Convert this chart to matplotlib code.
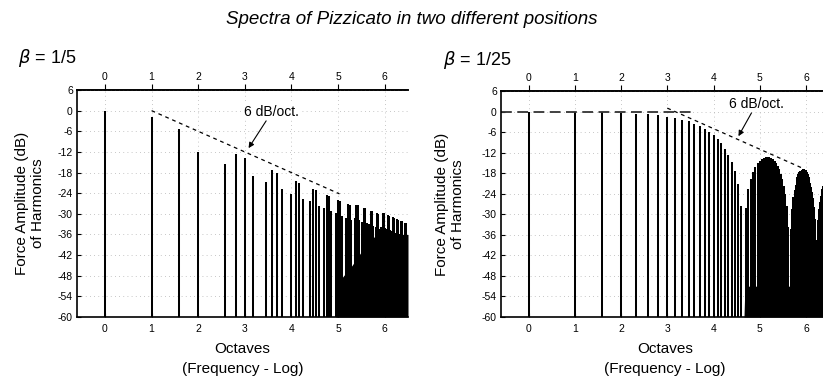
import numpy as np
import matplotlib
matplotlib.use("Agg")
import matplotlib.pyplot as plt

plt.rcParams['font.family'] = ['Liberation Sans', 'DejaVu Sans']
plt.rcParams['axes.unicode_minus'] = False

nan = float('nan')

# harmonic numbers (x is plotted on a log2 scale -> octaves)
harmonics = list(range(1, 91))

# force amplitude of each harmonic in dB, pluck at beta = 1/5 (nan = missing harmonic)
db_beta5 = [
    0.0, -1.8, -5.4, -12.0, nan, -15.6, -12.7, -13.9, -19.1, nan,
    -20.8, -17.4, -18.1, -22.9, nan, -24.1, -20.4, -20.9, -25.6, nan,
    -26.4, -22.7, -23.1, -27.6, nan, -28.3, -24.5, -24.8, -29.2, nan,
    -29.8, -25.9, -26.2, -30.6, nan, -31.1, -27.2, -27.4, -31.8, nan,
    -31.3, -27.3, -27.5, -31.9, nan, -32.3, -28.3, -28.4, -32.8, nan,
    -33.1, -29.1, -29.3, -33.6, nan, -33.9, -29.9, -30.1, -34.4, nan,
    -33.7, -29.7, -29.8, -34.1, nan, -34.4, -30.3, -30.5, -34.8, nan,
    -35.0, -31.0, -31.1, -35.4, nan, -35.6, -31.5, -31.7, -36.0, nan,
    -36.2, -32.1, -32.2, -36.5, nan, -36.7, -32.6, -32.7, -37.0, nan,
]

# force amplitude of each harmonic in dB, pluck at beta = 1/25
db_beta25 = [
    0.0, -0.1, -0.2, -0.3, -0.6, -0.8, -1.1, -1.5, -1.9, -2.4,
    -2.9, -3.6, -4.3, -5.0, -5.9, -6.9, -8.0, -9.3, -10.8, -12.6,
    -14.8, -17.5, -21.3, -27.6, nan, -28.3, -22.7, -19.6, -17.6, -16.1,
    -15.1, -14.3, -13.8, -13.5, -13.3, -13.2, -13.3, -13.6, -13.9, -14.4,
    -15.1, -15.9, -16.9, -18.1, -19.6, -21.6, -24.1, -27.7, -33.8, nan,
    -34.2, -28.4, -25.1, -23.0, -21.4, -19.2, -18.3, -17.7, -17.3, -17.0,
    -16.8, -16.8, -17.0, -17.2, -17.7, -18.2, -19.0, -20.9, -22.0, -23.5,
    -25.3, -27.8, -31.3, -37.4, nan, -37.6, -31.8, -28.5, -26.3, -24.6,
    -23.4, -22.5, -21.8, -21.3, -21.0, -20.8, -20.8, -20.9, -21.1, -21.5,
]

# solid black base where the spike feet merge (octave, dB)
floor5_oct = [4.95, 5.0, 5.3, 5.7, 6.0, 6.5]
floor5_db = [-60, -50, -45, -37, -36, -36]
floor25_oct = [4.66, 4.68, 4.95, 5.6, 6.5]
floor25_db = [-60, -51, -51, -51, -51]

# 6 dB/oct guide lines (octave, dB)
guide5_oct = [1.0, 5.03]
guide5_db = [0.0, -24.2]
flat25_oct = [-0.6, 3.55]
flat25_db = [0.0, 0.0]
guide25_oct = [3.0, 5.92]
guide25_db = [1.0, -16.5]

# annotation text / arrow head (octave, dB)
note5_text = (3.58, -0.4)
note5_head = (3.08, -10.9)
note25_text = (4.93, 2.2)
note25_head = (4.54, -7.2)

octave_ticks = [0, 1, 2, 3, 4, 5, 6]
db_ticks = [6, 0, -6, -12, -18, -24, -30, -36, -42, -48, -54, -60]

W, H = 823, 379
fig = plt.figure(figsize=(W / 100, H / 100), dpi=100)


def px(x0, y0, x1, y1):
    return [x0 / W, 1 - y1 / H, (x1 - x0) / W, (y1 - y0) / H]


def panel(rect, db, floor_oct, floor_db, ylabelpad):
    ax = fig.add_axes(rect)
    ax.set_xscale('log', base=2)
    ax.set_xlim(2 ** -0.6, 2 ** 6.5)
    ax.set_ylim(-60, 6)
    ax.set_axisbelow(True)
    ax.grid(True, color='#b4b4b4', linestyle=(0, (1, 4)), linewidth=0.6)

    h = np.array(harmonics, dtype=float)
    v = np.array(db, dtype=float)
    ok = ~np.isnan(v)
    ax.vlines(h[ok], -60, v[ok], color='black', linewidth=1.45)
    ax.fill_between(2.0 ** np.array(floor_oct), floor_db, -60,
                    color='black', linewidth=0)

    ticks = [2.0 ** o for o in octave_ticks]
    ax.set_xticks(ticks)
    ax.set_xticklabels([str(o) for o in octave_ticks])
    ax.xaxis.set_minor_locator(matplotlib.ticker.NullLocator())
    ax.set_yticks(db_ticks)
    ax.set_yticklabels([str(d) for d in db_ticks])
    ax.tick_params(axis='both', direction='in', length=3, labelsize=7.5,
                   width=0.8, pad=3)
    ax.tick_params(axis='x', pad=5)

    sec = ax.secondary_xaxis('top')
    sec.set_xticks(ticks)
    sec.set_xticklabels([str(o) for o in octave_ticks])
    sec.xaxis.set_minor_locator(matplotlib.ticker.NullLocator())
    sec.tick_params(direction='out', length=4, labelsize=7.5, width=0.8, pad=2)
    sec.spines['top'].set_linewidth(1.2)

    ax.spines['right'].set_visible(False)
    for s in ('left', 'bottom', 'top'):
        ax.spines[s].set_linewidth(1.2)

    ax.set_ylabel('Force Amplitude (dB)\nof Harmonics', fontsize=11,
                  labelpad=ylabelpad, linespacing=1.15)
    ax.set_xlabel('Octaves\n(Frequency - Log)', fontsize=11,
                  labelpad=6, linespacing=1.5)
    return ax


ax1 = panel(px(77, 90, 408, 317), db_beta5, floor5_oct, floor5_db, 9)
ax2 = panel(px(501, 91, 829, 317), db_beta25, floor25_oct, floor25_db, 12)

ax1.plot(2.0 ** np.array(guide5_oct), guide5_db, color='black',
         linestyle=(0, (3, 3)), linewidth=0.9)
ax2.plot(2.0 ** np.array(flat25_oct), flat25_db, color='#333333',
         linestyle=(0, (6, 3)), linewidth=1.3)
ax2.plot(2.0 ** np.array(guide25_oct), guide25_db, color='black',
         linestyle=(0, (3, 3)), linewidth=0.9)

for ax, t, hd in ((ax1, note5_text, note5_head), (ax2, note25_text, note25_head)):
    ax.annotate('6 dB/oct.', xy=(2.0 ** hd[0], hd[1]),
                xytext=(2.0 ** t[0], t[1]), fontsize=10,
                ha='center', va='center',
                bbox=dict(boxstyle='square,pad=0.05', fc='white', ec='none'),
                arrowprops=dict(arrowstyle='-|>', color='black', lw=0.8,
                                mutation_scale=8, shrinkA=1, shrinkB=0))

fig.text(18 / W, 1 - 58 / H, r'$\beta$ = 1/5', fontsize=13, ha='left', va='center')
fig.text(443 / W, 1 - 60 / H, r'$\beta$ = 1/25', fontsize=13, ha='left', va='center')
fig.text(0.5, 1 - 20 / H, 'Spectra of Pizzicato in two different positions',
         fontsize=13.5, style='italic', ha='center', va='center')

fig.savefig('out.png', dpi=100)
